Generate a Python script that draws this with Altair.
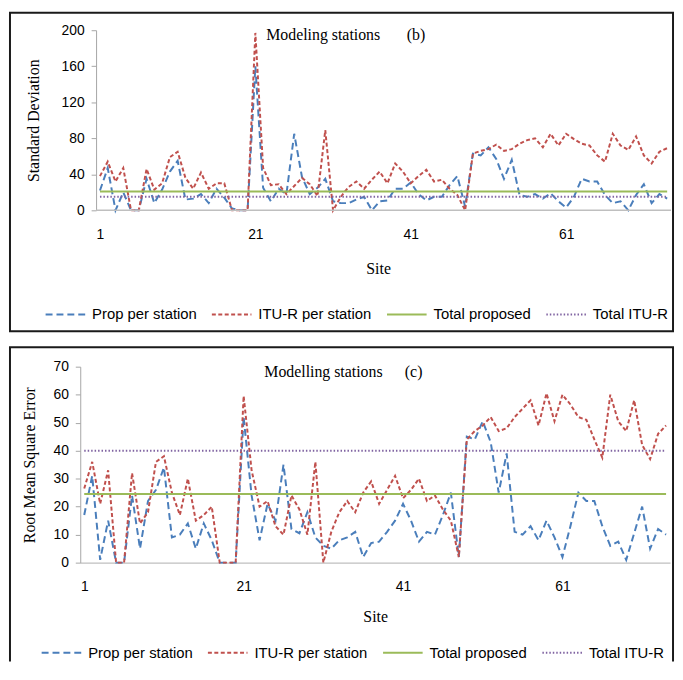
import altair as alt
import pandas as pd

# ---------------- data ----------------
sites = list(range(1, 75))
series_names = ["Prop per station", "ITU-R per station", "Total proposed", "Total ITU-R"]
series_colors = ["#4A7EBB", "#C0504D", "#9BBB59", "#8064A2"]
series_dash = [[7, 4], [4, 2.5], [1, 0], [1.5, 2]]
series_width = [2, 2, 4, 1.5]
x_ticks = [1, 21, 41, 61]

# (b) Standard deviation
sd_prop = [22, 47, 0, 20, 0, 0, 35, 8, 23, 43,
           55, 12, 13, 18, 8, 24, 14, 2, 0, 0,
           160, 25, 10, 24, 18, 85, 37, 18, 25, 35,
           10, 8, 8, 12, 15, 0, 10, 11, 24, 24,
           31, 18, 11, 15, 15, 28, 38, 4, 63, 61,
           70, 57, 35, 56, 17, 15, 18, 13, 19, 10,
           3, 15, 35, 32, 32, 17, 8, 10, 0, 17,
           29, 8, 18, 13]
sd_itu = [38, 54, 32, 47, 0, 0, 46, 23, 30, 59,
          65, 36, 24, 42, 24, 30, 30, 0, 0, 0,
          197, 47, 28, 29, 18, 27, 36, 29, 16, 89,
          0, 15, 26, 32, 24, 34, 43, 30, 52, 43,
          30, 38, 45, 32, 34, 24, 17, 0, 63, 66,
          68, 73, 66, 68, 74, 78, 80, 70, 85, 72,
          85, 79, 74, 72, 61, 54, 85, 72, 67, 82,
          61, 52, 65, 69]
sd_total_prop = 21
sd_total_itu = 15
sd_ticks = [0, 40, 80, 120, 160, 200]

# (c) Root mean square error
rmse_prop = [17, 31, 1, 15, 0, 0, 24, 5, 22, 26,
             34, 9, 10, 14, 5, 14, 8, 0, 0, 0,
             52, 24, 8, 21, 15, 35, 12, 10.5, 18, 9,
             6, 5, 8, 9, 11, 2, 7, 7.5, 11, 15,
             21, 15, 7.5, 11, 10, 17, 25, 2, 45, 44,
             50.5, 43, 25, 39, 11, 10, 13, 8, 15, 9,
             2, 13, 25, 22, 22, 13, 6, 7.5, 1, 10.5,
             20, 5, 12, 10]
rmse_itu = [26.5, 36, 21, 33, 0, 0, 32, 14, 18, 36,
            38, 25, 17, 30, 15, 17, 20, 0, 0, 0,
            59.5, 33, 20, 22, 13, 10, 24, 19, 10, 36,
            0, 11, 18, 22, 18, 25, 29, 21, 26, 31,
            23, 26, 30, 22, 24, 19, 15, 2, 44, 47,
            49, 52, 47, 48, 52, 55, 58, 49, 60.5, 50.5,
            60, 56.5, 52, 51, 44, 37.5, 60, 50.5, 47, 58,
            42, 37, 46, 49]
rmse_total_prop = 24.5
rmse_total_itu = 40
rmse_ticks = [0, 10, 20, 30, 40, 50, 60, 70]


def long_df(prop, itu, tot_p, tot_i):
    rows = []
    for s, p, i in zip(sites, prop, itu):
        rows.append({"site": s, "value": p, "series": series_names[0]})
        rows.append({"site": s, "value": i, "series": series_names[1]})
        rows.append({"site": s, "value": tot_p, "series": series_names[2]})
        rows.append({"site": s, "value": tot_i, "series": series_names[3]})
    return pd.DataFrame(rows)


SANS = "Liberation Sans"
SERIF = "Liberation Serif"
one = alt.Data(values=[{"a": 0}])


def panel(df, w, h, x_start, ydom, yticks, ytitle, ytitle_x, site_x, site_y,
          title_txt, title_x, tag, tag_x, leg_x, leg_y, border, open_bottom, gap_below):
    legend = alt.Legend(orient="none", legendX=leg_x, legendY=leg_y, direction="horizontal",
                        title=None, symbolType="M-1,0H4", symbolSize=256, labelOffset=30,
                        columnPadding=11, labelFont=SANS, labelFontSize=15, labelColor="#000",
                        labelLimit=300)
    # the plot may start x_start px left of the first category band
    step = (w - x_start) / 74.0
    d0 = 0.5 - x_start / step
    xscale = alt.Scale(domain=[d0, 74.5], nice=False, zero=False)
    yscale = alt.Scale(domain=ydom, nice=False, zero=True)
    xaxis = alt.Axis(values=x_ticks, ticks=False, grid=False, labelPadding=17,
                     domain=(x_start == 0), domainColor="#BFBFBF", domainWidth=1.5,
                     title="Site", titleX=site_x, titleY=site_y, titleBaseline="middle",
                     titleAlign="center", labelFlush=False)
    yaxis = alt.Axis(values=yticks, grid=False, tickSize=5, labelPadding=7,
                     offset=-x_start,
                     domainColor="#A6A6A6", tickColor="#A6A6A6", title=ytitle,
                     titleX=ytitle_x, titleY=h / 2, titleAngle=-90,
                     titleBaseline="middle", titleAlign="center")
    x = alt.X("site:Q", scale=xscale, axis=xaxis)
    y = alt.Y("value:Q", scale=yscale, axis=yaxis)
    color = alt.Color("series:N", scale=alt.Scale(domain=series_names, range=series_colors), legend=legend)
    dash = alt.StrokeDash("series:N", scale=alt.Scale(domain=series_names, range=series_dash), legend=legend)
    sw = alt.StrokeWidth("series:N", scale=alt.Scale(domain=series_names, range=series_width), legend=legend)

    layers = []
    for name in series_names:
        layers.append(
            alt.Chart(df).transform_filter(alt.datum.series == name)
            .mark_line(clip=False)
            .encode(x=x, y=y, color=color, strokeDash=dash, strokeWidth=sw)
        )
    if x_start:
        # category-axis baseline from the first to the last band edge
        layers.append(alt.Chart(one).mark_rule(color="#BFBFBF", strokeWidth=1.5)
                      .encode(x=alt.X(datum=0.5, scale=xscale, axis=xaxis, title="Site"),
                              x2=alt.X2(datum=74.5),
                              y=alt.Y(datum=0, scale=yscale, axis=yaxis, title=ytitle)))
    bx0, bx1, by0, by1 = border
    if open_bottom:
        layers.append(alt.Chart(one).mark_rule(color="#1a1a1a", strokeWidth=2, strokeCap="square")
                      .encode(x=alt.value(bx0), x2=alt.value(bx1), y=alt.value(by0)))
        layers.append(alt.Chart(one).mark_rule(color="#1a1a1a", strokeWidth=2)
                      .encode(x=alt.value(bx0), y=alt.value(by0), y2=alt.value(by1)))
        layers.append(alt.Chart(one).mark_rule(color="#1a1a1a", strokeWidth=2)
                      .encode(x=alt.value(bx1), y=alt.value(by0), y2=alt.value(by1)))
    else:
        layers.append(alt.Chart(one).mark_rect(fillOpacity=0, stroke="#1a1a1a", strokeWidth=2)
                      .encode(x=alt.value(bx0), x2=alt.value(bx1), y=alt.value(by0), y2=alt.value(by1)))
    if gap_below:
        # invisible spacer that reserves the gap between the two framed panels
        layers.append(alt.Chart(one).mark_rect(opacity=0)
                      .encode(x=alt.value(bx0), x2=alt.value(bx0 + 1),
                              y=alt.value(by1), y2=alt.value(by1 + gap_below)))
    layers.append(alt.Chart(one).mark_text(font=SERIF, fontSize=16, align="left",
                                           baseline="alphabetic", color="#000")
                  .encode(x=alt.value(title_x), y=alt.value(10), text=alt.value(title_txt)))
    layers.append(alt.Chart(one).mark_text(font=SERIF, fontSize=16, align="left",
                                           baseline="alphabetic", color="#000")
                  .encode(x=alt.value(tag_x), y=alt.value(10), text=alt.value(tag)))
    return alt.layer(*layers).properties(width=w, height=h)


df_b = long_df(sd_prop, sd_itu, sd_total_prop, sd_total_itu)
df_c = long_df(rmse_prop, rmse_itu, rmse_total_prop, rmse_total_itu)

# both panels share the plot origin at page x = 80; panel (b) starts its axis 16px further right
pb = panel(df_b, 597, 182, 16, [0, 200], sd_ticks, "Standard Deviation", -63, 301, 59,
           "Modeling stations", 188, "(b)", 330, -36, 278.3, (-71, 599, -17.7, 304.3), False, 13)
pc = panel(df_c, 596, 198, 0, [0, 70], rmse_ticks, "Root Mean Square Error", -51, 298, 54,
           "Modelling stations", 186, "(c)", 328, -40, 280, (-71, 599, -19.7, 298), True, 0)

chart = alt.vconcat(pb, pc, spacing=0).resolve_scale(
    color="independent", strokeDash="independent", strokeWidth="independent"
).properties(padding={"left": 0, "top": 0, "right": 0, "bottom": 0}, background="white").configure_view(
    stroke=None
).configure_axis(
    labelFont=SANS, labelFontSize=14, labelColor="#000", titleFont=SERIF, titleFontSize=16,
    titleFontWeight="normal", titleColor="#000"
)

chart.save("out.html", embed_options={"renderer": "svg", "actions": False})
